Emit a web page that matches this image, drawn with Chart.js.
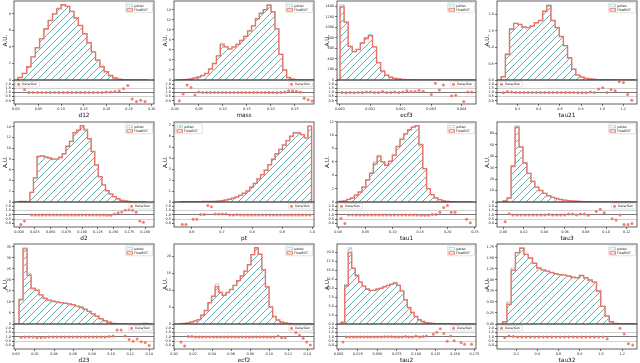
<!DOCTYPE html>
<html><head><meta charset="utf-8">
<script src="https://cdn.jsdelivr.net/npm/chart.js@4.4.0/dist/chart.umd.min.js"></script>
<style>
html,body{margin:0;padding:0;background:#fff;width:640px;height:363px;overflow:hidden;position:relative}
canvas{position:absolute}
</style></head><body>
<script>
// ================= DATA =================
const d12_bins = [0.005, 0.29];
const d12_jetnet  = [0.3,0.8,1.6,2.8,3.9,5.0,6.1,7.2,8.0,8.7,9.1,8.9,8.3,7.5,6.6,5.6,4.5,3.4,2.4,1.6,1.0,0.5,0.25,0.1,0.05,0.03,0.02,0.01,0.01,0.01];
const d12_flowbdt = [0.3,0.8,1.6,2.8,3.9,5.0,6.2,7.2,8.0,8.6,9.1,8.9,8.3,7.5,6.6,5.6,4.5,3.4,2.4,1.6,1.0,0.55,0.25,0.1,0.05,0.03,0.02,0.01,0.01,0.01];
const d12_ratio   = [1.9,1.35,1.0,1.0,1.0,1.0,1.0,1.0,1.0,1.0,1.0,1.0,1.0,1.0,1.0,1.0,1.0,1.0,1.0,1.0,1.05,1.05,1.1,1.2,1.45,1.85,0.2,-0.1,0.05,-0.1];
const d12_xticks  = [0,0.05,0.10,0.15,0.20,0.25,0.30];
const d12_yticks  = [0,2,4,6,8];

const mass_bins = [0.005, 0.29];
const mass_jetnet  = [0.02,0.05,0.1,0.2,0.4,0.6,0.9,1.3,2.2,3.3,4.8,7.3,6.6,6.2,6.6,7.1,7.9,8.7,9.8,10.8,12.2,13.3,14.0,15.0,13.6,10.2,5.1,2.0,0.5,0.15,0.05,0.02,0.01,0.01,0.01];
const mass_flowbdt = [0.02,0.05,0.1,0.2,0.4,0.6,0.9,1.3,2.2,3.3,4.8,7.0,6.6,6.2,6.6,7.1,7.9,8.7,9.8,10.8,12.2,13.3,14.0,14.9,13.6,10.2,5.1,2.0,0.5,0.15,0.05,0.02,0.01,0.01,0.01];
const mass_ratio   = [0.0,0.8,1.9,1.6,0.7,1.05,1.0,1.0,1.0,1.0,1.0,1.0,1.0,1.0,1.0,1.0,1.0,1.0,1.0,1.0,1.0,1.0,1.0,1.0,1.0,0.95,1.0,1.05,1.2,1.2,1.15,1.05,0.3,0.1,-0.05];
const mass_xticks  = [0,0.05,0.10,0.15,0.20,0.25];
const mass_yticks  = [0,2,4,6,8,10,12,14];

const ecf3_bins = [0.00001, 0.0044];
const ecf3_jetnet  = [1430,1100,640,540,580,710,810,860,630,330,170,90,55,30,18,10,6,4,3,2,1.5,1,1,0.5,0.5,0.5,0.3,0.3,0.2,0.2,0.1,0.1,0.1];
const ecf3_flowbdt = [1390,1100,640,540,580,700,790,840,630,330,170,90,55,30,18,10,6,4,3,2,1.5,1,1,0.5,0.5,0.5,0.3,0.3,0.2,0.2,0.1,0.1,0.1];
const ecf3_ratio   = [1.0,0.95,1.0,0.95,1.0,1.0,1.05,1.05,1.0,1.0,1.1,1.0,1.0,1.05,1.0,1.05,1.2,1.1,1.1,1.25,1.15,null,0.75,2.1,1.3,1.9,null,0.6,0.65,null,-0.1,1.05,1.05];
const ecf3_xticks  = [0,0.001,0.002,0.003,0.004];
const ecf3_yticks  = [0,200,400,600,800,1000,1200,1400];

const tau21_bins = [0.045, 1.30];
const tau21_jetnet  = [0.1,0.8,1.57,1.73,1.70,1.62,1.6,1.65,1.75,1.82,2.1,2.3,1.82,1.6,1.33,1.05,0.68,0.33,0.15,0.09,0.05,0.03,0.02,0.01,0.01,0.01,0.01,0.005,0.005,0.005,0.005,0.005];
const tau21_flowbdt = [0.1,0.78,1.55,1.73,1.70,1.62,1.6,1.65,1.75,1.82,2.1,2.27,1.82,1.6,1.33,1.05,0.68,0.33,0.15,0.09,0.05,0.03,0.02,0.01,0.01,0.01,0.01,0.005,0.005,0.005,0.005,0.005];
const tau21_ratio   = [0.95,1.1,1.05,1.0,1.0,1.0,1.0,1.0,1.0,1.0,1.0,1.0,1.0,1.0,1.0,1.0,0.98,0.98,0.95,0.95,0.95,1.05,1.0,1.4,1.55,1.0,1.35,1.2,2.3,2.2,0.75,0.05];
const tau21_xticks  = [0.2,0.4,0.6,0.8,1.0,1.2];
const tau21_yticks  = [0,0.5,1.0,1.5,2.0];

const d2_bins = [0.0, 0.2];
const d2_jetnet  = [0.1,0.1,0.05,1.8,4.5,8.5,8.6,8.4,8.2,8.0,8.0,8.4,9.0,10.4,11.3,12.9,13.4,14.2,13.6,11.8,9.4,6.9,4.7,3.2,2.1,1.5,1.0,0.6,0.3,0.2,0.1,0.05,0.03,0.02,0.01];
const d2_flowbdt = [0.1,0.1,0.05,1.8,4.5,8.5,8.6,8.4,8.2,8.0,8.0,8.3,9.0,10.4,11.3,12.9,13.4,14.2,13.4,11.8,9.4,6.9,4.7,3.2,2.1,1.5,1.0,0.6,0.3,0.2,0.1,0.05,0.03,0.02,0.01];
const d2_ratio   = [-0.1,0.3,null,1.0,1.0,1.0,1.0,1.0,1.0,1.0,1.0,1.0,1.0,1.0,1.0,1.0,1.0,1.0,1.0,1.0,1.0,1.0,1.0,1.0,0.95,0.95,1.1,1.25,1.35,1.55,1.6,1.55,1.3,0.3,0.15];
const d2_xticks  = [0,0.025,0.05,0.075,0.1,0.125,0.15,0.175,0.2];
const d2_yticks  = [0,2,4,6,8,10,12,14];

const pt_bins = [0.5625, 0.997];
const pt_jetnet  = [0.02,0.02,0.02,0.02,0.03,0.03,0.04,0.05,0.05,0.06,0.08,0.12,0.18,0.25,0.35,0.45,0.6,0.8,1.0,1.35,1.7,2.1,2.5,2.9,3.4,3.9,4.4,4.8,5.2,5.6,6.0,6.35,6.3,6.15,5.85,6.95];
const pt_flowbdt = [0.02,0.02,0.02,0.02,0.03,0.03,0.04,0.05,0.05,0.06,0.08,0.12,0.18,0.25,0.35,0.45,0.6,0.8,1.0,1.35,1.7,2.1,2.5,2.9,3.4,3.9,4.4,4.8,5.2,5.6,6.0,6.3,6.3,6.15,5.85,6.9];
const pt_ratio   = [-0.1,-0.1,null,0.5,0.5,1.05,1.05,2.1,1.95,1.1,1.1,1.1,1.1,1.0,0.98,1.02,1.0,1.0,1.0,1.0,1.0,1.0,1.0,1.0,1.0,1.0,1.0,1.0,1.0,1.0,1.0,1.0,1.0,1.0,1.0,1.0];
const pt_xticks  = [0.6,0.7,0.8,0.9,1.0];
const pt_yticks  = [0,1,2,3,4,5,6,7];

const tau1_bins = [0.002, 0.245];
const tau1_jetnet  = [0.1,0.15,0.4,0.6,1.0,1.5,2.2,3.3,4.3,6.0,7.0,6.0,5.5,6.1,7.0,8.3,9.4,10.2,10.8,11.2,11.4,8.4,5.0,2.0,1.1,0.6,0.35,0.15,0.08,0.05,0.03,0.02,0.01,0.01,0.01];
const tau1_flowbdt = [0.1,0.15,0.4,0.6,1.0,1.5,2.2,3.3,4.3,5.7,6.8,6.0,5.5,6.1,7.0,8.3,9.4,10.2,10.8,11.2,11.4,8.6,5.0,2.0,1.1,0.6,0.35,0.15,0.08,0.05,0.03,0.02,0.01,0.01,0.01];
const tau1_ratio   = [0.6,0.0,1.0,1.0,1.0,1.0,1.0,1.0,1.0,1.0,1.0,1.0,1.0,1.0,1.0,1.0,1.0,1.0,1.0,1.0,1.0,0.95,0.95,0.95,1.05,1.05,1.3,1.85,2.1,1.3,1.3,null,null,0.5,0.1];
const tau1_xticks  = [0,0.05,0.10,0.15,0.20,0.25];
const tau1_yticks  = [0,2,4,6,8,10,12];

const tau3_bins = [0.0, 0.127];
const tau3_jetnet  = [1.0,3.5,32,66.5,48,34,25,18,13,10,7.5,5.5,4,3,2.2,1.6,1.2,0.9,0.6,0.4,0.3,0.2,0.15,0.1,0.08,0.06,0.05,0.04,0.03,0.02,0.02,0.01,0.01];
const tau3_flowbdt = [1.0,3.5,31,65,48,34,25,18,13,10,7.5,5.5,4,3,2.2,1.6,1.2,0.9,0.6,0.4,0.3,0.2,0.15,0.1,0.08,0.06,0.05,0.04,0.03,0.02,0.02,0.01,0.01];
const tau3_ratio   = [0.2,1.15,1.0,1.0,1.0,1.0,1.0,1.0,1.0,1.0,1.0,1.05,1.0,1.0,1.0,1.0,1.1,1.1,1.0,1.1,1.1,0.95,null,1.4,1.65,1.25,null,0.55,0.4,1.0,-0.1,-0.1,0.0];
const tau3_xticks  = [0,0.02,0.04,0.06,0.08,0.10,0.12];
const tau3_yticks  = [0,10,20,30,40,50,60];

const d23_bins = [0.0033, 0.142];
const d23_jetnet  = [11.3,34.5,23,16.5,15.3,13.2,12,10.8,10.3,10.0,9.7,9.4,9.1,8.7,8.1,7.9,6.7,5.7,4.6,3.5,2.4,1.5,0.8,0.3,0.1,0.05,0.03,0.02,0.02,0.02,0.03,0.3,0.05];
const d23_flowbdt = [11,34,22,16,15.3,13.2,11.5,10.8,10.3,10.0,9.7,9.4,9.1,8.7,8.1,7.5,6.7,5.7,4.6,3.5,2.4,1.5,0.8,0.3,0.1,0.05,0.03,0.02,0.02,0.02,0.03,0.3,0.05];
const d23_ratio   = [0.95,1.0,1.0,1.0,0.9,0.9,0.95,1.0,1.0,1.0,1.0,1.0,1.0,1.0,1.0,1.0,1.0,1.0,1.0,1.0,1.0,1.0,1.05,1.1,1.8,1.8,1.1,0.7,0.5,0.75,0.45,0.35,0.0];
const d23_xticks  = [0,0.02,0.04,0.06,0.08,0.10,0.12,0.14];
const d23_yticks  = [0,5,10,15,20,25,30,35];

const ecf2_bins = [0.0055, 0.145];
const ecf2_jetnet  = [0.1,0.15,0.3,0.6,0.9,1.3,2.6,4.0,6.3,8.2,11.8,9.3,8.5,9.3,10.2,11.4,12.8,14.2,15.6,17.5,20.5,22.5,20.6,16.0,11.0,5.0,2.2,1.2,0.6,0.3,0.15,0.1,0.05,0.03,0.02,0.01,0.01];
const ecf2_flowbdt = [0.1,0.15,0.3,0.6,0.9,1.3,2.6,4.0,6.3,8.2,11.0,9.3,8.5,9.3,10.2,11.4,12.8,14.2,15.6,17.5,20.5,22.5,20.6,16.0,11.0,5.0,2.2,1.2,0.6,0.3,0.15,0.1,0.05,0.03,0.02,0.01,0.01];
const ecf2_ratio   = [0.4,-0.05,1.05,1.05,1.0,1.0,1.0,1.0,1.0,1.0,1.0,1.0,1.0,1.0,1.0,1.0,1.0,1.0,1.0,1.0,1.0,1.0,1.0,1.0,1.0,1.0,1.0,1.1,0.9,0.9,null,1.9,1.5,1.2,0.85,0.4,0.05];
const ecf2_xticks  = [0,0.02,0.04,0.06,0.08,0.10,0.12,0.14];
const ecf2_yticks  = [0,5,10,15,20];

const tau2_bins = [0.0035, 0.1735];
const tau2_jetnet  = [0.5,11.0,21.3,15.6,13.8,11.7,10.6,9.9,9.4,9.4,9.8,10.0,10.4,10.8,11.1,11.7,10.8,9.5,6.8,4.6,3.2,2.1,1.2,0.7,0.35,0.2,0.12,0.08,0.05,0.04,0.03,0.03,0.02,0.02,0.01,0.01,0.01,0.01];
const tau2_flowbdt = [0.5,10.7,20.0,15.6,13.5,11.7,10.6,9.7,9.4,9.4,9.8,10.0,10.4,10.8,11.1,11.4,10.8,9.2,6.8,4.6,3.2,2.1,1.2,0.7,0.35,0.2,0.12,0.08,0.05,0.04,0.03,0.03,0.02,0.02,0.01,0.01,0.01,0.01];
const tau2_ratio   = [0.4,1.0,1.0,1.0,1.0,1.0,0.98,0.98,1.0,1.0,1.0,1.0,1.02,1.02,1.02,1.0,1.0,1.0,1.05,1.0,1.0,1.1,1.0,1.05,1.1,null,1.3,1.55,1.95,1.4,0.5,1.1,0.55,null,0.35,0.15,null,0.15];
const tau2_xticks  = [0,0.025,0.05,0.075,0.1,0.125,0.15,0.175];
const tau2_yticks  = [0,2.5,5,7.5,10,12.5,15,17.5,20];

const tau32_bins = [0.073, 1.32];
const tau32_jetnet  = [0.05,0.5,1.27,1.62,1.73,1.58,1.5,1.38,1.27,1.23,1.2,1.17,1.14,1.12,1.11,1.09,1.06,1.05,1.1,1.05,1.0,0.95,0.75,0.4,0.18,0.05,0.01,0.005,0.005,0.005,0.003];
const tau32_flowbdt = [0.05,0.45,1.22,1.62,1.72,1.58,1.5,1.38,1.27,1.23,1.2,1.17,1.14,1.12,1.11,1.09,1.06,1.05,1.1,1.05,1.0,0.95,0.75,0.4,0.18,0.05,0.01,0.005,0.005,0.005,0.003];
const tau32_ratio   = [0.9,1.1,1.05,1.0,1.0,1.0,1.0,1.0,1.0,1.0,1.0,1.0,1.0,1.0,1.0,1.0,1.0,1.0,1.0,1.0,1.0,1.0,1.0,1.0,0.8,null,null,2.0,1.35,0.2,0.05];
const tau32_xticks  = [0.2,0.4,0.6,0.8,1.0,1.2];
const tau32_yticks  = [0,0.25,0.5,0.75,1.0,1.25,1.5,1.75];

const ratio_yticks = [0,0.5,1.0,1.5,2.0];
const LEGEND_MAIN = ['JetNet','FlowBDT'];
const LEGEND_RATIO = 'Data/Gen';

// ================= LAYOUT / STYLE =================
const ROWS = [{mt:1,mb:80,rb:104},{mt:122,mb:202,rb:227},{mt:244,mb:324,rb:349}];
const COLS = [{pl:14,pr:154},{pl:174,pr:314},{pl:337,pr:476},{pl:497,pr:637}];
const PANELS = [
 {label:'d12',  bins:d12_bins,  jet:d12_jetnet,  flow:d12_flowbdt,  ratio:d12_ratio,  xt:d12_xticks,  yt:d12_yticks,  xd:2, yd:0, xr:[-0.004,0.305], row:0,col:0, leg:'right', rleg:'left'},
 {label:'mass', bins:mass_bins, jet:mass_jetnet, flow:mass_flowbdt, ratio:mass_ratio, xt:mass_xticks, yt:mass_yticks, xd:2, yd:0, xr:[-0.002,0.29], row:0,col:1, leg:'right', rleg:'right'},
 {label:'ecf3', bins:ecf3_bins, jet:ecf3_jetnet, flow:ecf3_flowbdt, ratio:ecf3_ratio, xt:ecf3_xticks, yt:ecf3_yticks, xd:3, yd:0, xr:[-0.00009,0.00447], row:0,col:2, leg:'right', rleg:'right'},
 {label:'tau21',bins:tau21_bins,jet:tau21_jetnet,flow:tau21_flowbdt,ratio:tau21_ratio,xt:tau21_xticks,yt:tau21_yticks,xd:1, yd:1, xr:[0.005,1.33], row:0,col:3, leg:'right', rleg:'left'},
 {label:'d2',   bins:d2_bins,   jet:d2_jetnet,   flow:d2_flowbdt,   ratio:d2_ratio,   xt:d2_xticks,   yt:d2_yticks,   xd:3, yd:0, xr:[-0.008,0.214], row:1,col:0, leg:'right', rleg:'right'},
 {label:'pt',   bins:pt_bins,   jet:pt_jetnet,   flow:pt_flowbdt,   ratio:pt_ratio,   xt:pt_xticks,   yt:pt_yticks,   xd:1, yd:0, xr:[0.541,1.005], row:1,col:1, leg:'left',  rleg:'right'},
 {label:'tau1', bins:tau1_bins, jet:tau1_jetnet, flow:tau1_flowbdt, ratio:tau1_ratio, xt:tau1_xticks, yt:tau1_yticks, xd:2, yd:0, xr:[-0.002,0.252], row:1,col:2, leg:'right', rleg:'left'},
 {label:'tau3', bins:tau3_bins, jet:tau3_jetnet, flow:tau3_flowbdt, ratio:tau3_ratio, xt:tau3_xticks, yt:tau3_yticks, xd:2, yd:0, xr:[-0.006,0.13], row:1,col:3, leg:'right', rleg:'right'},
 {label:'d23',  bins:d23_bins,  jet:d23_jetnet,  flow:d23_flowbdt,  ratio:d23_ratio,  xt:d23_xticks,  yt:d23_yticks,  xd:2, yd:0, xr:[-0.002,0.145], row:2,col:0, leg:'right', rleg:'right'},
 {label:'ecf2', bins:ecf2_bins, jet:ecf2_jetnet, flow:ecf2_flowbdt, ratio:ecf2_ratio, xt:ecf2_xticks, yt:ecf2_yticks, xd:2, yd:0, xr:[0.0,0.147], row:2,col:1, leg:'right', rleg:'right'},
 {label:'tau2', bins:tau2_bins, jet:tau2_jetnet, flow:tau2_flowbdt, ratio:tau2_ratio, xt:tau2_xticks, yt:tau2_yticks, xd:3, yd:1, xr:[-0.002,0.177], row:2,col:2, leg:'right', rleg:'right'},
 {label:'tau32',bins:tau32_bins,jet:tau32_jetnet,flow:tau32_flowbdt,ratio:tau32_ratio,xt:tau32_xticks,yt:tau32_yticks,xd:1, yd:2, xr:[0.02,1.34], row:2,col:3, leg:'right', rleg:'left'}
];

const FONT = "'DejaVu Sans', sans-serif";
const TICK_FS = 3.4, LAB_FS = 5.8, LEG_FS = 3.2;
const YW = 14, PADT = 3, PADR = 3, PADB = 4, XH = 15;
const FLOW_C = 'rgba(240,98,84,0.85)';
const JET_EDGE = '#a6dbd9';
const HATCH_C = '#4fa8aa';
const RATIO_C = 'rgba(242,112,98,0.9)';
const FRAME_C = '#3a3a3a';

Chart.defaults.font.family = FONT;

function makeHatch(){
  const s = 7, c = document.createElement('canvas'); c.width = s; c.height = s;
  const g = c.getContext('2d');
  g.strokeStyle = HATCH_C; g.lineWidth = 0.9;
  g.beginPath();
  g.moveTo(0, s); g.lineTo(s, 0);
  g.moveTo(-1, 1); g.lineTo(1, -1);
  g.moveTo(s-1, s+1); g.lineTo(s+1, s-1);
  g.stroke();
  return document.createElement('canvas').getContext('2d').createPattern(c, 'repeat');
}
const HATCH = makeHatch();

function stepPoints(bins, vals){
  const n = vals.length, lo = bins[0], hi = bins[1], w = (hi - lo) / n;
  const pts = [{x: lo, y: 0}];
  for (let i = 0; i < n; i++) pts.push({x: lo + i * w, y: vals[i]});
  pts.push({x: hi, y: vals[n-1]});
  pts.push({x: hi, y: 0});
  return pts;
}
function centerPoints(bins, vals){
  const n = vals.length, lo = bins[0], hi = bins[1], w = (hi - lo) / n;
  const pts = [];
  vals.forEach((v, i) => { if (v !== null) pts.push({x: lo + (i + 0.5) * w, y: v}); });
  return pts;
}

const framePlugin = {
  id: 'frame',
  afterDraw(chart){
    const {ctx, chartArea: a} = chart;
    ctx.save(); ctx.strokeStyle = FRAME_C; ctx.lineWidth = 0.8;
    ctx.strokeRect(a.left, a.top, a.right - a.left, a.bottom - a.top);
    ctx.restore();
  }
};

const mainLegendPlugin = {
  id: 'mainLegend',
  afterDatasetsDraw(chart, args, opts){
    const {ctx, chartArea: a} = chart;
    const w = 27, h = 10;
    const x = opts.pos === 'left' ? a.left + 1.5 : a.right - 1.5 - w;
    const y = a.top + 1.7;
    ctx.save();
    ctx.fillStyle = 'rgba(255,255,255,0.85)'; ctx.strokeStyle = '#d0d0d0'; ctx.lineWidth = 0.6;
    ctx.beginPath(); ctx.roundRect(x, y, w, h, 1); ctx.fill(); ctx.stroke();
    const rows = [y + 3, y + 7.2];
    ctx.fillStyle = HATCH; ctx.fillRect(x + 1.5, rows[0] - 1.2, 5.5, 2.4);
    ctx.strokeStyle = JET_EDGE; ctx.lineWidth = 0.8; ctx.strokeRect(x + 1.5, rows[0] - 1.2, 5.5, 2.4);
    ctx.fillStyle = '#fff'; ctx.fillRect(x + 1.5, rows[1] - 1.2, 5.5, 2.4);
    ctx.strokeStyle = FLOW_C; ctx.lineWidth = 1.0; ctx.strokeRect(x + 1.5, rows[1] - 1.2, 5.5, 2.4);
    ctx.fillStyle = '#222'; ctx.font = LEG_FS + 'px ' + FONT; ctx.textBaseline = 'middle';
    ctx.fillText(LEGEND_MAIN[0], x + 8.5, rows[0]);
    ctx.fillText(LEGEND_MAIN[1], x + 8.5, rows[1]);
    ctx.restore();
  }
};

const ratioLegendPlugin = {
  id: 'ratioLegend',
  afterDatasetsDraw(chart, args, opts){
    const {ctx, chartArea: a} = chart;
    const w = 24, h = 5.4;
    const x = opts.pos === 'left' ? a.left + 1.5 : a.right - 1.5 - w;
    const y = a.top + 1.5;
    ctx.save();
    ctx.fillStyle = 'rgba(255,255,255,0.85)'; ctx.strokeStyle = '#d0d0d0'; ctx.lineWidth = 0.6;
    ctx.beginPath(); ctx.roundRect(x, y, w, h, 1); ctx.fill(); ctx.stroke();
    ctx.fillStyle = RATIO_C;
    ctx.beginPath(); ctx.arc(x + 3, y + h/2, 1.5, 0, Math.PI*2); ctx.fill();
    ctx.fillStyle = '#222'; ctx.font = LEG_FS + 'px ' + FONT; ctx.textBaseline = 'middle';
    ctx.fillText(chart.data.datasets[0].label, x + 6.5, y + h/2 + 0.2);
    ctx.restore();
  }
};

function fixTicks(values){ return (s) => { s.ticks = values.map(v => ({value: v})); }; }

function addCanvas(left, top, w, h){
  const cv = document.createElement('canvas');
  cv.width = w; cv.height = h;
  cv.style.left = left + 'px'; cv.style.top = top + 'px';
  cv.style.width = w + 'px'; cv.style.height = h + 'px';
  document.body.appendChild(cv);
  return cv;
}

function buildPanel(p){
  const r = ROWS[p.row], c = COLS[p.col];
  const pw = c.pr - c.pl;
  const titlePad = p.col < 2 ? 2.4 : 0.6;
  const W = pw + YW + PADR, H = (r.mb - r.mt) + PADT + PADB;
  const cv = addCanvas(c.pl - YW, r.mt - PADT, W, H);
  const ymax = Math.max(...p.jet, ...p.flow) * 1.05;
  new Chart(cv, {
    type: 'line',
    data: { datasets: [
      { label: LEGEND_MAIN[1], data: stepPoints(p.bins, p.flow), stepped: 'before', borderColor: FLOW_C, borderWidth: 1.4, fill: false, pointRadius: 0, order: 0 },
      { label: LEGEND_MAIN[0], data: stepPoints(p.bins, p.jet), stepped: 'before', borderColor: JET_EDGE, borderWidth: 1.1, fill: 'origin', backgroundColor: HATCH, pointRadius: 0, order: 1 }
    ]},
    options: {
      responsive: false, animation: false, devicePixelRatio: 1,
      layout: { padding: {top: PADT, right: PADR, bottom: PADB, left: 0}, autoPadding: false },
      plugins: { legend: {display: false}, tooltip: {enabled: false}, mainLegend: {pos: p.leg} },
      scales: {
        x: { type: 'linear', min: p.xr[0], max: p.xr[1], bounds: 'data', display: false },
        y: { type: 'linear', min: 0, max: ymax, bounds: 'data',
             afterFit: s => { s.width = YW; s.paddingTop = 0; s.paddingBottom = 0; },
             afterBuildTicks: fixTicks(p.yt),
             ticks: { font: {family: FONT, size: TICK_FS}, color: '#222', padding: 1, autoSkip: false, callback: v => v.toFixed(p.yd) },
             grid: { drawOnChartArea: false, drawTicks: true, tickLength: 2, color: FRAME_C, lineWidth: 0.7 },
             border: { display: false },
             title: { display: true, text: 'A.U.', color: '#111', font: {family: FONT, size: LAB_FS}, padding: {top: titlePad, bottom: 0} } }
      }
    },
    plugins: [mainLegendPlugin, framePlugin]
  });
  const H2 = (r.rb - r.mb) + PADT + XH;
  const cv2 = addCanvas(c.pl - YW, r.mb - PADT, W, H2);
  new Chart(cv2, {
    type: 'scatter',
    data: { datasets: [
      { label: LEGEND_RATIO, data: centerPoints(p.bins, p.ratio), pointRadius: 1.5, pointBackgroundColor: RATIO_C, pointBorderWidth: 0, showLine: false }
    ]},
    options: {
      responsive: false, animation: false, devicePixelRatio: 1,
      layout: { padding: {top: PADT, right: PADR, bottom: 0, left: 0}, autoPadding: false },
      plugins: { legend: {display: false}, tooltip: {enabled: false}, ratioLegend: {pos: p.rleg} },
      scales: {
        x: { type: 'linear', min: p.xr[0], max: p.xr[1], bounds: 'data',
             afterFit: s => { s.height = XH; s.paddingLeft = 0; s.paddingRight = 0; },
             afterBuildTicks: fixTicks(p.xt),
             ticks: { font: {family: FONT, size: TICK_FS}, color: '#222', padding: 1, autoSkip: false, maxRotation: 0, minRotation: 0, callback: v => v.toFixed(p.xd) },
             grid: { drawOnChartArea: false, drawTicks: true, tickLength: 2, color: FRAME_C, lineWidth: 0.7 },
             border: { display: false },
             title: { display: true, text: p.label, color: '#111', font: {family: FONT, size: LAB_FS}, padding: {top: 0, bottom: 0} } },
        y: { type: 'linear', min: -0.4, max: 2.5, bounds: 'data',
             afterFit: s => { s.width = YW; s.paddingTop = 0; s.paddingBottom = 0; },
             afterBuildTicks: fixTicks(ratio_yticks),
             ticks: { font: {family: FONT, size: TICK_FS}, color: '#222', padding: 1, autoSkip: false, callback: v => v.toFixed(1) },
             grid: { drawOnChartArea: true, drawTicks: true, tickLength: 2, tickColor: FRAME_C, lineWidth: 0.8,
                     color: ctx => { const v = ctx.tick ? ctx.tick.value : null; return v === 1 ? '#555' : (v === 0.5 || v === 1.5) ? '#c4c4c4' : 'rgba(0,0,0,0)'; } },
             border: { display: false } }
      }
    },
    plugins: [ratioLegendPlugin, framePlugin]
  });
}

PANELS.forEach(buildPanel);
</script>
</body></html>
